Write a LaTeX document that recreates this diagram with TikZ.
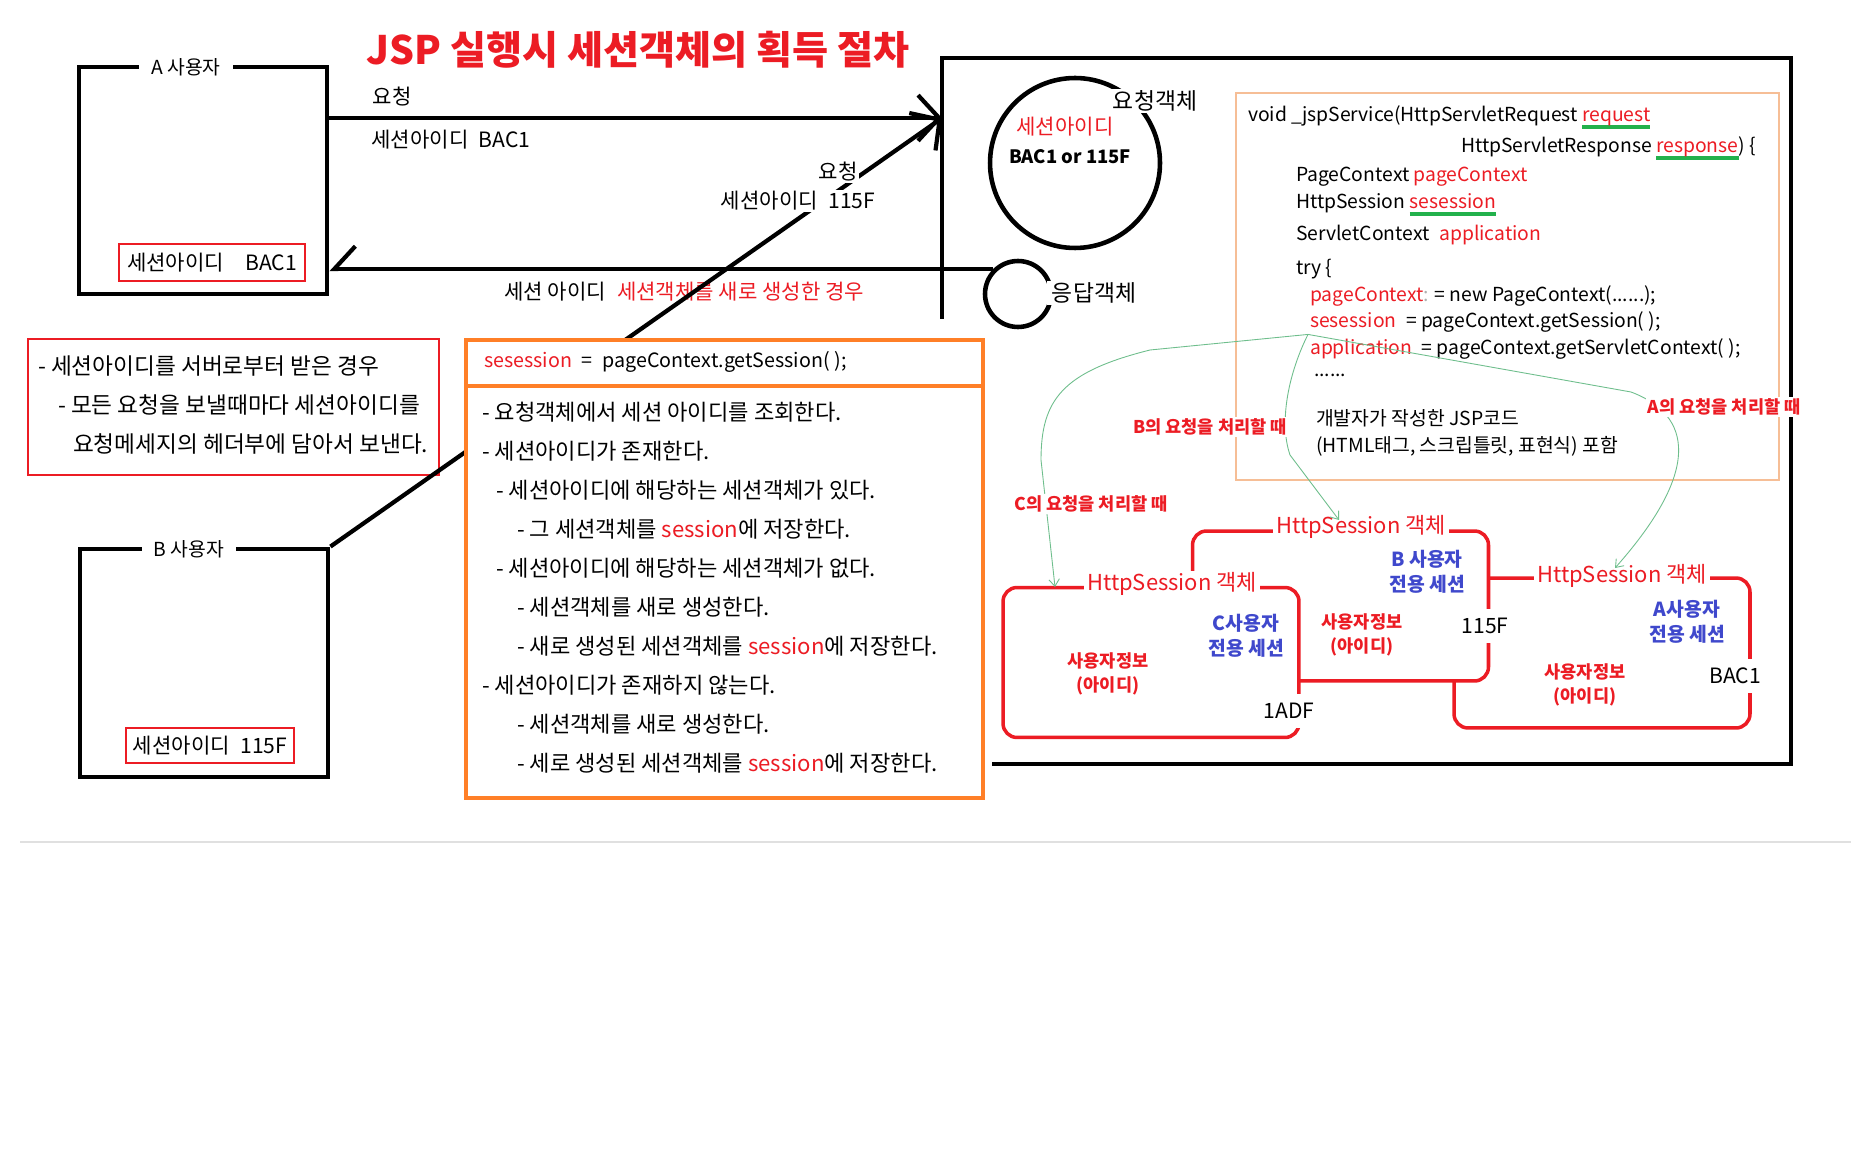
\documentclass[tikz,border=0pt]{standalone}
\usepackage{fontspec}
\setmainfont{Noto Sans CJK KR}
\usetikzlibrary{arrows.meta, positioning, calc}

\definecolor{jspred}{RGB}{236,28,36}
\definecolor{jspblue}{RGB}{63,72,204}
\definecolor{jsporange}{RGB}{255,127,39}
\definecolor{codeframe}{RGB}{246,190,150}
\definecolor{ulgreen}{RGB}{34,177,76}
\definecolor{linkgreen}{RGB}{110,190,140}
\definecolor{colongray}{RGB}{175,175,175}

\newsavebox{\ulbox}
\newcommand{\grnul}[1]{\sbox{\ulbox}{#1}\rlap{\color{ulgreen}\rule[-0.38em]{\wd\ulbox}{2.2pt}}\usebox{\ulbox}}
\newcommand{\rd}[1]{\textcolor{jspred}{#1}}

\begin{document}
\begin{tikzpicture}[x=0.02cm, y=-0.02cm, every node/.style={inner sep=1pt}]
  \tikzset{userbox/.style={draw, line width=2.8pt, minimum width=4.96cm, inner sep=0pt},
           boxtag/.style={fill=white, inner xsep=7pt, font=\fontsize{11}{13}\selectfont},
           idbox/.style={draw=jspred, line width=1.3pt, font=\fontsize{12}{14}\selectfont},
           msg/.style={font=\fontsize{12}{14}\selectfont},
           flow/.style={line width=2.4pt, -{Straight Barb[length=12pt,width=26pt]}},
           objring/.style={circle, draw, line width=2.6pt, inner sep=0pt},
           note/.style={anchor=west, font=\fontsize{12.9}{15}\selectfont},
           steptext/.style={anchor=west, font=\fontsize{12.6}{15}\selectfont},
           code/.style={anchor=west, font=\fontsize{11}{13}\selectfont},
           sessbox/.style={draw=jspred, fill=white, line width=2pt, rounded corners=0.28cm, inner sep=0pt, minimum width=5.92cm, minimum height=3cm},
           sesstitle/.style={fill=white, text=jspred, font=\fontsize{12.5}{14}\selectfont, inner xsep=2pt},
           owner/.style={text=jspblue, font=\bfseries\fontsize{11}{14}\selectfont, align=center},
           userinfo/.style={text=jspred, font=\bfseries\fontsize{10}{14}\selectfont, align=center},
           sessid/.style={fill=white, font=\fontsize{12}{14}\selectfont, inner xsep=2pt, inner ysep=5pt},
           link/.style={draw=linkgreen, line width=0.5pt},
           when/.style={fill=white, text=jspred, font=\bfseries\fontsize{10}{12}\selectfont}}

  \fill[white] (0,0) rectangle (1851,1168);
  \useasboundingbox (0,0) rectangle (1851,1168);
  \draw[black!12, line width=1pt] (20,842) -- (1851,842);

  \node[text=jspred, font=\bfseries\fontsize{22.3}{26}\selectfont] (title) at (638,50) {JSP 실행시 세션객체의 획득 절차};

  % users
  \node[userbox, minimum height=4.54cm] (userA) at (203,180.5) {};
  \node[boxtag] (userAtag) at (186,67) {A 사용자};
  \node[idbox, minimum width=3.72cm, minimum height=0.74cm] (idA) at (212,262.5) {세션아이디\quad BAC1};

  \node[userbox, minimum height=4.56cm] (userB) at (204,663) {};
  \node[boxtag] (userBtag) at (189,549) {B 사용자};
  \node[idbox, minimum width=3.36cm, minimum height=0.70cm] (idB) at (210,745.5) {세션아이디\enspace 115F};

  \node[draw=jspred, line width=1.5pt, minimum width=8.22cm, minimum height=2.72cm] (noteBox) at (233.5,407) {};
  \node[note] (note1) at (36,366) {- 세션아이디를 서버로부터 받은 경우};
  \node[note] (note2) at (56,405) {- 모든 요청을 보낼때마다 세션아이디를};
  \node[note] (note3) at (71,444) {요청메세지의 헤더부에 담아서 보낸다.};

  % server
  \coordinate (srvLow) at (942,319);
  \coordinate (srvTip) at (942,118);
  \draw[line width=2.8pt] (srvLow) -- (942,58) -- (1791,58) -- (1791,764) -- (992,764);

  \node[objring, minimum size=3.4cm] (reqObj) at (1075,163) {};
  \node[fill=white, font=\fontsize{13}{15}\selectfont] (reqObjTag) at (1155,101) {요청객체};
  \node[msg, text=jspred] (reqSid) at (1065,127) {세션아이디};
  \node[font=\bfseries\fontsize{10.5}{12}\selectfont] (reqVal) at (1070,157) {BAC1 or 115F};
  \node[objring, minimum size=1.32cm] (respObj) at (1018,294) {};
  \node[fill=white, inner xsep=3pt, font=\fontsize{13}{15}\selectfont] (respObjTag) at (1094,293) {응답객체};

  % messages
  \draw[flow] (userA.east |- srvTip) -- (srvTip);
  \node[msg] (reqA) at (392,97) {요청};
  \node[msg] (sidA) at (451,140) {세션아이디\enspace BAC1};

  \draw[line width=2.4pt, -{Straight Barb[harpoon, swap, length=12pt, width=26pt]}] (respObj.135) -- (userA.east |- respObj.135);
  \node[msg] (sidNew) at (555,292) {세션 아이디};
  \node[msg, text=jspred, right=4pt of sidNew] (newCase) {세션객체를 새로 생성한 경우};

  \draw[flow] (userB.north east) -- (srvTip);
  \node[msg, fill=white] (reqB) at (838,172) {요청};
  \node[msg, fill=white] (sidB) at (798,201) {세션아이디\enspace 115F};

  % getSession steps
  \coordinate (divY) at (0,386);
  \node[draw=jsporange, fill=white, line width=1.8pt, minimum width=10.34cm, minimum height=9.16cm] (flowBox) at (724.5,569) {};
  \draw[jsporange, line width=1.8pt] (flowBox.west |- divY) -- (flowBox.east |- divY);
  \node[steptext, font=\fontsize{11.2}{13}\selectfont] (getSes) at (482,362) {\rd{sesession}\enspace=\enspace pageContext.getSession( );};
  \node[steptext] (step1) at (480,412) {- 요청객체에서 세션 아이디를 조회한다.};
  \node[steptext] (step2) at (480,451) {- 세션아이디가 존재한다.};
  \node[steptext] (step3) at (494,490) {- 세션아이디에 해당하는 세션객체가 있다.};
  \node[steptext] (step4) at (515,529) {- 그 세션객체를 \rd{session}에 저장한다.};
  \node[steptext] (step5) at (494,568) {- 세션아이디에 해당하는 세션객체가 없다.};
  \node[steptext] (step6) at (515,607) {- 세션객체를 새로 생성한다.};
  \node[steptext] (step7) at (515,646) {- 새로 생성된 세션객체를 \rd{session}에 저장한다.};
  \node[steptext] (step8) at (480,685) {- 세션아이디가 존재하지 않는다.};
  \node[steptext] (step9) at (515,724) {- 세션객체를 새로 생성한다.};
  \node[steptext] (step10) at (515,763) {- 세로 생성된 세션객체를 \rd{session}에 저장한다.};

  % _jspService
  \node[draw=codeframe, line width=0.8pt, minimum width=10.86cm, minimum height=7.74cm] (codeBox) at (1507.5,286.5) {};
  \node[code] (codeSig) at (1246,117) {void \_jspService(HttpServletRequest \grnul{\rd{request}}};
  \node[code, anchor=east] (codeSig2) at (1758,148) {HttpServletResponse \grnul{\rd{response}}) \{};
  \node[code] (codePc) at (1294,177) {PageContext \rd{pageContext}};
  \node[code] (codeHs) at (1294,205) {HttpSession \grnul{\rd{sesession}}};
  \node[code] (codeSc) at (1294,235) {ServletContext\enspace\rd{application}};
  \node[code] (codeTry) at (1294,269) {try \{};
  \node[code] (codeNew) at (1308,296) {\rd{pageContext}\textcolor{colongray}{ : }= new PageContext(......);};
  \node[code] (codeSes) at (1308,322) {\rd{sesession}\enspace= pageContext.getSession( );};
  \node[code] (codeApp) at (1308,349) {\rd{application}\enspace= pageContext.getServletContext( );};
  \node[code] (codeDots) at (1312,375) {......};
  \node[code] (codeUser1) at (1314,418) {개발자가 작성한 JSP코드};
  \node[code] (codeUser2) at (1314,446) {(HTML태그, 스크립틀릿, 표현식) 포함};

  % sessions
  \node[sessbox] (sessA) at (1602,653) {};
  \node[sesstitle] (titleA) at (1622,576) {HttpSession 객체};
  \node[owner] (ownerA) at (1687,622) {A사용자\\전용 세션};
  \node[userinfo] (infoA) at (1585,685) {사용자정보\\(아이디)};
  \node[sessid] (idSessA) at (1735,676) {BAC1};

  \node[sessbox] (sessB) at (1340.5,606) {};
  \node[sesstitle] (titleB) at (1361,527) {HttpSession 객체};
  \node[owner] (ownerB) at (1427,572) {B 사용자\\전용 세션};
  \node[userinfo] (infoB) at (1362,635) {사용자정보\\(아이디)};
  \node[sessid] (idSessB) at (1485,626) {115F};

  \node[sessbox] (sessC) at (1151,662.5) {};
  \node[sesstitle] (titleC) at (1172,584) {HttpSession 객체};
  \node[owner] (ownerC) at (1246,636) {C사용자\\전용 세션};
  \node[userinfo] (infoC) at (1108,674) {사용자정보\\(아이디)};
  \node[sessid] (idSessC) at (1289,711) {1ADF};

  % which session
  \coordinate (endC) at (1055,587);
  \coordinate (endB) at (1339,520);
  \coordinate (endA) at (1615,568);
  \draw[link, -{Straight Barb[length=4pt, width=6pt]}] (codeSes.south west) -- (1150,350) .. controls (1062,372) and (1041,400) .. (1041,460) -- (endC);
  \draw[link, -{Straight Barb[length=4pt, width=6pt]}] (codeSes.south west) .. controls (1290,370) and (1278,420) .. (1290,455) -- (endB);
  \draw[link, -{Straight Barb[length=4pt, width=6pt]}] (codeSes.south west) -- (1631,392) .. controls (1692,415) and (1702,470) .. (endA);
  \node[when] (whenA) at (1724,407) {A의 요청을 처리할 때};
  \node[when] (whenB) at (1210,427) {B의 요청을 처리할 때};
  \node[when] (whenC) at (1091,504) {C의 요청을 처리할 때};
\end{tikzpicture}
\end{document}
